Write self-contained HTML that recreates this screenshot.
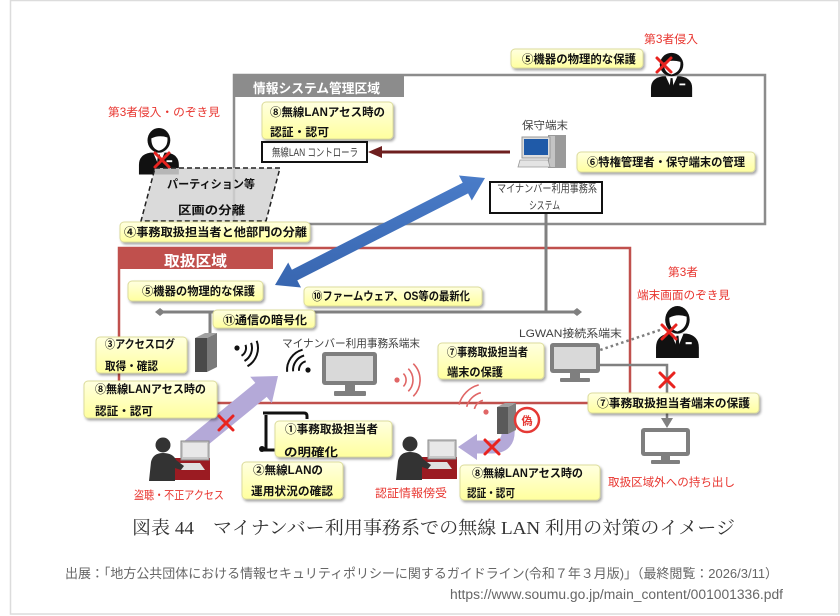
<!DOCTYPE html>
<html><head><meta charset="utf-8">
<style>
html,body{margin:0;padding:0;background:#fff;}
svg{display:block;}
.b{font-family:"Liberation Sans","Noto Sans CJK JP",sans-serif;font-weight:bold;font-size:11.5px;fill:#111;}
.r{font-family:"Liberation Sans","Noto Sans CJK JP",sans-serif;font-size:11.5px;fill:#e8352f;}
.g{font-family:"Liberation Sans","Noto Sans CJK JP",sans-serif;font-size:11px;fill:#404040;}
.h{font-family:"Liberation Sans","Noto Sans CJK JP",sans-serif;font-weight:bold;fill:#fff;}
</style></head><body>
<svg width="840" height="616" viewBox="0 0 840 616" xmlns="http://www.w3.org/2000/svg">
<defs>
<linearGradient id="yg" x1="0" y1="0" x2="0" y2="1"><stop offset="0" stop-color="#ffffe0"/><stop offset="1" stop-color="#ffff9e"/></linearGradient>
<linearGradient id="bg" x1="0" y1="0" x2="0" y2="1"><stop offset="0" stop-color="#4a7cc8"/><stop offset="1" stop-color="#3866b0"/></linearGradient>
<filter id="sh" x="-10%" y="-20%" width="130%" height="170%"><feDropShadow dx="1.5" dy="2" stdDeviation="1.2" flood-color="#000" flood-opacity="0.35"/></filter>
<g id="person">
<path d="M1,50 L1,40 Q1,29 13,27 L31,27 Q43,29 43,40 L43,50 Z" fill="#111"/>
<polygon points="16,27 28,27 22,41" fill="#fff"/>
<polygon points="21,29 23,29 24.5,44 22,47 19.5,44" fill="#111"/>
<rect x="30" y="35" width="6" height="2" fill="#fff"/>
<ellipse cx="22" cy="14" rx="12" ry="13" fill="#111"/>
<path d="M14,12 Q22,8 31,11 Q32,22 22,25 Q14,23 14,12 Z" fill="#fff"/>
</g>
<g id="hacker">
<rect x="22" y="21" width="40" height="22" fill="#9b1b22"/>
<rect x="33" y="4" width="28" height="19" fill="#c8c8c8" stroke="#8a8a8a"/>
<rect x="35" y="6" width="24" height="14" fill="#e8e8e8"/>
<polygon points="28,26 52,26 57,33 33,33" fill="#e0e0e0"/>
<circle cx="15" cy="8" r="7.5" fill="#333"/>
<path d="M1,44 L3,25 Q5,16 15,16 Q25,16 28,23 L36,29 L33,33 L27,31 L27,44 Z" fill="#333"/>
</g>
</defs>

<!-- frame -->
<rect x="10.5" y="0.5" width="828.5" height="613.5" fill="none" stroke="#dcdcdc" stroke-width="1.5"/>

<!-- regions -->
<rect x="234" y="75" width="531" height="149" fill="none" stroke="#8c8c8c" stroke-width="2.5"/>
<rect x="233" y="74" width="171" height="23" fill="#8c8c8c"/>
<text class="h" x="253" y="93" font-size="13" textLength="127" lengthAdjust="spacingAndGlyphs">情報システム管理区域</text>

<rect x="119" y="248" width="511" height="155" fill="none" stroke="#c0504d" stroke-width="2.5"/>
<rect x="118" y="247" width="155" height="22" fill="#c0504d"/>
<text class="h" x="164" y="266" font-size="15" textLength="63" lengthAdjust="spacingAndGlyphs">取扱区域</text>

<!-- gray connectors -->
<g stroke="#808080" stroke-width="3" fill="none">
<line x1="546" y1="213" x2="546" y2="312"/>
<line x1="160" y1="312" x2="577" y2="312"/>
<line x1="210" y1="312" x2="210" y2="336"/>
</g>
<path d="M155,312 l5,-4 l5,4 l-5,4z" fill="#808080"/>
<path d="M572,312 l5,-4 l5,4 l-5,4z" fill="#808080"/>
<polyline points="600,365 667,365 667,420" stroke="#808080" stroke-width="2.5" fill="none"/>
<path d="M661,418 L673,418 L667,428 Z" fill="#808080"/>
<line x1="660" y1="330" x2="591" y2="353" stroke="#7f7f7f" stroke-width="2.5" stroke-dasharray="2.5,3"/>
<polygon points="582,356 591.8,357 589.2,349.4" fill="#7f7f7f"/>

<!-- dark red arrow -->
<line x1="380" y1="152" x2="510" y2="152" stroke="#6e1f1f" stroke-width="3"/>
<path d="M368,152 L382,146 L382,158 Z" fill="#6e1f1f"/>

<!-- blue double arrow -->
<polygon points="275,285 301,287.5 297.3,280.4 468.1,193.4 471.8,200.5 485,178 459,175.5 462.7,182.7 291.9,269.7 288.2,262.5" fill="url(#bg)"/>

<!-- purple arrow -->
<polygon points="278,376 271.8,403.1 266.7,396.9 195.7,455 184.3,441 255.3,382.9 250.2,376.7" fill="#b4a9d8"/>

<!-- curved purple arrow -->
<path d="M508,428 Q510,447 492,447 L476,447" stroke="#b4a9d8" stroke-width="13" fill="none"/>
<polygon points="477,434 477,460 458,447" fill="#b4a9d8"/>

<!-- wifi icons -->
<g fill="none" stroke="#111" stroke-width="2">
<path d="M245.5,344.9 A9,9 0 0 1 241.5,355.8"/>
<path d="M251.1,342.9 A15,15 0 0 1 244.5,361"/>
<path d="M256.7,340.8 A21,21 0 0 1 247.5,366.2"/>
<path d="M299,370.8 A9,9 0 0 1 305.7,361.3"/>
<path d="M293.1,371.3 A15,15 0 0 1 304.1,355.5"/>
<path d="M287.1,371.8 A21,21 0 0 1 302.6,349.7"/>
</g>
<circle cx="237" cy="348" r="2.6" fill="#111"/>
<circle cx="308" cy="370" r="2.6" fill="#111"/>
<g fill="none" stroke="#e06666" stroke-width="1.6">
<path d="M403.4,373.6 A9,9 0 0 1 403.4,386.4"/>
<path d="M408.3,368.7 A16,16 0 0 1 408.3,391.3"/>
<path d="M413.3,363.7 A23,23 0 0 1 413.3,396.3"/>
<path d="M474.4,408.9 A12,12 0 0 1 482.9,400.4"/>
<path d="M466.7,406.8 A20,20 0 0 1 480.8,392.7"/>
<path d="M459,404.7 A28,28 0 0 1 478.7,384.9"/>
</g>
<circle cx="397" cy="380" r="2.6" fill="#e06666"/>
<circle cx="486" cy="412" r="2.6" fill="#e06666"/>

<!-- monitors -->
<g fill="#7f7f7f">
<rect x="322" y="352" width="55" height="33" rx="3"/>
<rect x="345" y="385" width="10" height="7"/>
<rect x="334" y="391" width="32" height="5" rx="1"/>
<rect x="550" y="343" width="50" height="30" rx="3"/>
<rect x="570" y="373" width="10" height="5"/>
<rect x="560" y="378" width="30" height="4" rx="1"/>
<rect x="641" y="428" width="49" height="28" rx="3"/>
<rect x="661" y="456" width="9" height="4"/>
<rect x="651" y="460" width="29" height="4" rx="1"/>
</g>
<rect x="326" y="356" width="47" height="25" fill="#d9d9d9"/>
<rect x="554" y="347" width="42" height="22" fill="#d9d9d9"/>
<rect x="645" y="432" width="41" height="20" fill="#fff"/>

<!-- servers -->
<polygon points="195,338 205,333 217,333 207,338" fill="#a0a0a0"/>
<rect x="195" y="338" width="12" height="34" fill="#4a4a4a"/>
<polygon points="207,338 217,333 217,367 207,372" fill="#7a7a7a"/>
<polygon points="497,407 505,403 516,403 508,407" fill="#a0a0a0"/>
<rect x="497" y="407" width="11" height="27" fill="#5a5a5a"/>
<polygon points="508,407 516,403 516,430 508,434" fill="#7f7f7f"/>

<!-- fake circle -->
<circle cx="527" cy="420" r="12" fill="#fff" stroke="#e53935" stroke-width="2.5"/>
<text x="527" y="424.5" text-anchor="middle" font-family="Liberation Sans,'Noto Sans CJK JP',sans-serif" font-size="11" font-weight="bold" fill="#e53935">偽</text>

<!-- maintenance PC -->
<rect x="548" y="135" width="18" height="33" fill="#9a9a9a"/>
<rect x="549" y="136" width="6" height="31" fill="#c4c4c4"/>
<rect x="522" y="137" width="28" height="21" fill="#ddd" stroke="#999"/>
<rect x="524" y="139" width="24" height="16" fill="#1f5aa8"/>
<polygon points="520,160 548,160 550,167 518,167" fill="#e4e4e4" stroke="#999" stroke-width="0.8"/>

<!-- persons -->
<use href="#person" transform="translate(138,127) scale(0.95)"/>
<use href="#person" transform="translate(650,52) scale(0.98,0.9)"/>
<use href="#person" transform="translate(655,305) scale(1.02,1.06)"/>

<!-- hackers -->
<use href="#hacker" transform="translate(148,437)"/>
<use href="#hacker" transform="translate(395,436)"/>

<!-- scroll icon -->
<g fill="none" stroke="#111" stroke-width="3">
<path d="M266,415 L266,449"/>
<path d="M263,413 L304,413 Q307,413 307,416 L307,419"/>
<path d="M262,450 L285,450"/>
</g>
<circle cx="262" cy="449" r="3" fill="#111"/>

<!-- parallelogram -->
<polygon points="155,168 280,168 266,221 141,221" fill="#d4d4d4" fill-opacity="0.85" stroke="#222" stroke-width="1.5" stroke-dasharray="5,3"/>
<text class="b" x="167" y="188" font-size="13" textLength="88" lengthAdjust="spacingAndGlyphs">パーティション等</text>
<text class="b" x="178" y="214" font-size="13" textLength="67" lengthAdjust="spacingAndGlyphs">区画の分離</text>

<!-- white boxes -->
<rect x="262" y="142" width="105" height="20" fill="#fff" stroke="#111" stroke-width="2"/>
<text class="g" x="272" y="156" font-size="10" textLength="86" lengthAdjust="spacingAndGlyphs">無線LAN コントローラ</text>
<rect x="490" y="182" width="112" height="31" fill="#fff" stroke="#111" stroke-width="2"/>
<text class="g" x="497" y="192" font-size="10" textLength="100" lengthAdjust="spacingAndGlyphs">マイナンバー利用事務系</text>
<text class="g" x="529" y="209" font-size="10" textLength="31" lengthAdjust="spacingAndGlyphs">システム</text>

<!-- yellow boxes -->
<g fill="url(#yg)" stroke="#dcdc9c" stroke-width="1" filter="url(#sh)">
<rect x="511" y="49" width="132" height="19" rx="4"/>
<rect x="262" y="102" width="131" height="37" rx="4"/>
<rect x="577" y="152" width="178" height="20" rx="4"/>
<rect x="120" y="222" width="190" height="20" rx="4"/>
<rect x="128" y="281" width="135" height="20" rx="4"/>
<rect x="304" y="287" width="178" height="19" rx="4"/>
<rect x="213" y="310" width="102" height="18" rx="4"/>
<rect x="96" y="337" width="91" height="36" rx="4"/>
<rect x="84" y="381" width="133" height="37" rx="4"/>
<rect x="438" y="343" width="106" height="36" rx="4"/>
<rect x="588" y="393" width="171" height="20" rx="4"/>
<rect x="275" y="421" width="117" height="36" rx="4"/>
<rect x="242" y="462" width="101" height="37" rx="4"/>
<rect x="460" y="465" width="140" height="35" rx="4"/>
</g>
<g class="b">
<text class="b" x="522" y="63" textLength="114" lengthAdjust="spacingAndGlyphs">⑤機器の物理的な保護</text>
<text class="b" x="270" y="116" textLength="115" lengthAdjust="spacingAndGlyphs">⑧無線LANアセス時の</text>
<text class="b" x="270" y="136" textLength="59" lengthAdjust="spacingAndGlyphs">認証・認可</text>
<text class="b" x="587" y="166" textLength="158" lengthAdjust="spacingAndGlyphs">⑥特権管理者・保守端末の管理</text>
<text class="b" x="124" y="236" textLength="183" lengthAdjust="spacingAndGlyphs">④事務取扱担当者と他部門の分離</text>
<text class="b" x="142" y="295" textLength="113" lengthAdjust="spacingAndGlyphs">⑤機器の物理的な保護</text>
<text class="b" x="312" y="300" textLength="158" lengthAdjust="spacingAndGlyphs">⑩ファームウェア、OS等の最新化</text>
<text class="b" x="223" y="324" textLength="84" lengthAdjust="spacingAndGlyphs">⑪通信の暗号化</text>
<text class="b" x="105" y="348" textLength="70" lengthAdjust="spacingAndGlyphs">③アクセスログ</text>
<text class="b" x="105" y="370" textLength="53" lengthAdjust="spacingAndGlyphs">取得・確認</text>
<text class="b" x="95" y="393" textLength="111" lengthAdjust="spacingAndGlyphs">⑧無線LANアセス時の</text>
<text class="b" x="95" y="415" textLength="58" lengthAdjust="spacingAndGlyphs">認証・認可</text>
<text class="b" x="447" y="356" textLength="81" lengthAdjust="spacingAndGlyphs">⑦事務取扱担当者</text>
<text class="b" x="447" y="376" textLength="56" lengthAdjust="spacingAndGlyphs">端末の保護</text>
<text class="b" x="597" y="407" textLength="153" lengthAdjust="spacingAndGlyphs">⑦事務取扱担当者端末の保護</text>
<text class="b" x="285" y="433" textLength="93" lengthAdjust="spacingAndGlyphs">①事務取扱担当者</text>
<text class="b" x="284" y="456" textLength="54" lengthAdjust="spacingAndGlyphs">の明確化</text>
<text class="b" x="253" y="474" textLength="70" lengthAdjust="spacingAndGlyphs">②無線LANの</text>
<text class="b" x="251" y="495" textLength="82" lengthAdjust="spacingAndGlyphs">運用状況の確認</text>
<text class="b" x="472" y="477" textLength="111" lengthAdjust="spacingAndGlyphs">⑧無線LANアセス時の</text>
<text class="b" x="467" y="497" textLength="48" lengthAdjust="spacingAndGlyphs">認証・認可</text>
</g>

<!-- red X marks -->
<g stroke="#e8231f" stroke-width="3" stroke-linecap="round">
<path d="M155,153 L169,167 M155,167 L169,153"/>
<path d="M657,58 L671,72 M657,72 L671,58"/>
<path d="M662,325 L676,339 M662,339 L676,325"/>
<path d="M660,373 L674,387 M660,387 L674,373"/>
<path d="M219,416 L233,430 M219,430 L233,416"/>
<path d="M485,440 L499,454 M485,454 L499,440"/>
</g>

<!-- red labels -->
<text class="r" x="108" y="116" textLength="112" lengthAdjust="spacingAndGlyphs">第3者侵入・のぞき見</text>
<text class="r" x="644" y="43" textLength="54" lengthAdjust="spacingAndGlyphs">第3者侵入</text>
<text class="r" x="668" y="276" textLength="30" lengthAdjust="spacingAndGlyphs">第3者</text>
<text class="r" x="637" y="299" textLength="93" lengthAdjust="spacingAndGlyphs">端末画面のぞき見</text>
<text class="r" x="134" y="499" textLength="90" lengthAdjust="spacingAndGlyphs">盗聴・不正アクセス</text>
<text class="r" x="375" y="497" textLength="72" lengthAdjust="spacingAndGlyphs">認証情報傍受</text>
<text class="r" x="608" y="486" textLength="127" lengthAdjust="spacingAndGlyphs">取扱区域外への持ち出し</text>

<!-- gray labels -->
<text class="g" x="522" y="129" font-size="11.5" textLength="46" lengthAdjust="spacingAndGlyphs">保守端末</text>
<text class="g" x="282" y="347" font-size="11" textLength="138" lengthAdjust="spacingAndGlyphs">マイナンバー利用事務系端末</text>
<text class="g" x="519" y="337" font-size="11.5" textLength="103" lengthAdjust="spacingAndGlyphs">LGWAN接続系端末</text>

<!-- caption -->
<text x="132" y="534" font-family="'Liberation Serif','Noto Serif CJK SC',serif" font-size="18" fill="#333" textLength="603" lengthAdjust="spacingAndGlyphs">図表 44　マイナンバー利用事務系での無線 LAN 利用の対策のイメージ</text>
<text x="65" y="578" font-family="'Liberation Sans','Noto Sans CJK JP',sans-serif" font-size="13" fill="#666" textLength="713" lengthAdjust="spacingAndGlyphs">出展：「地方公共団体における情報セキュリティポリシーに関するガイドライン(令和７年３月版)」（最終閲覧：2026/3/11）</text>
<text x="450" y="599" font-family="'Liberation Sans','Noto Sans CJK JP',sans-serif" font-size="13.5" fill="#666" textLength="333" lengthAdjust="spacingAndGlyphs">https://www.soumu.go.jp/main_content/001001336.pdf</text>
</svg>
</body></html>
